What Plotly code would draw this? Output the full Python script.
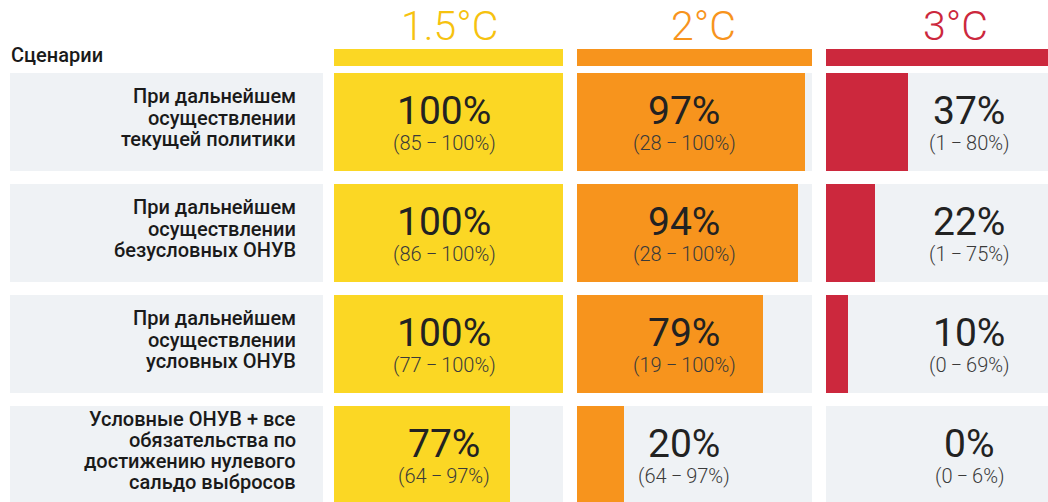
import plotly.graph_objects as go

# ---------------- data ----------------
scenarios = [
    "При дальнейшем<br>осуществлении<br>текущей политики",
    "При дальнейшем<br>осуществлении<br>безусловных ОНУВ",
    "При дальнейшем<br>осуществлении<br>условных ОНУВ",
    "Условные ОНУВ + все<br>обязательства по<br>достижению нулевого<br>сальдо выбросов",
]
warming_levels = ["1.5°C", "2°C", "3°C"]
val_15 = [100, 100, 100, 77]
val_2 = [97, 94, 79, 20]
val_3 = [37, 22, 10, 0]
rng_15 = [(85, 100), (86, 100), (77, 100), (64, 97)]
rng_2 = [(28, 100), (28, 100), (19, 100), (64, 97)]
rng_3 = [(1, 80), (1, 75), (0, 69), (0, 6)]
header_label = "Сценарии"

# ---------------- styling / layout ----------------
W, H = 1048, 502
FONT = "Roboto"
BG = "#EFF2F5"
col_colors = ["#FBD724", "#F7941D", "#CC283D"]
title_colors = ["#F6C20F", "#F7941D", "#CC283D"]
col_px = [(334, 563), (577, 812), (826, 1048)]      # column extents (px)
text_center_px = [444, 684, 969]                     # label centre per column
title_center_px = [449, 703, 955]
label_px = (10, 323)
ROW0 = 121.5      # px centre of first row
PITCH = 111.0     # px between rows
ROW_H = 98.0
HDR_Y, HDR_H = 57.5, 17.0
LINE_PITCH = 21.3

values = [val_15, val_2, val_3]
ranges = [rng_15, rng_2, rng_3]
rows = list(range(len(scenarios)))


def px(x):
    return x / W


def py(y):
    return 1 - y / H


def row_from_px(y):
    return (y - ROW0) / PITCH


fig = go.Figure()
bw = ROW_H / PITCH
hdr_row = row_from_px(HDR_Y)

axes = ["x", "x2", "x3"]
for i, ax in enumerate(axes):
    fig.add_trace(go.Bar(x=[100] * len(rows), y=rows, orientation="h", width=bw,
                         marker=dict(color=BG, line=dict(width=0)),
                         xaxis=ax, yaxis="y", hoverinfo="skip", showlegend=False))
    fig.add_trace(go.Bar(x=values[i], y=rows, orientation="h", width=bw,
                         marker=dict(color=col_colors[i], line=dict(width=0)),
                         xaxis=ax, yaxis="y", hoverinfo="skip", showlegend=False))
    fig.add_trace(go.Bar(x=[100], y=[hdr_row], orientation="h", width=HDR_H / PITCH,
                         marker=dict(color=col_colors[i], line=dict(width=0)),
                         xaxis=ax, yaxis="y", hoverinfo="skip", showlegend=False))

# label column background
fig.add_trace(go.Bar(x=[100] * len(rows), y=rows, orientation="h", width=bw,
                     marker=dict(color=BG, line=dict(width=0)),
                     xaxis="x4", yaxis="y", hoverinfo="skip", showlegend=False))

ann = []
TS = "\u2009"
for i in range(3):
    ann.append(dict(text=warming_levels[i], x=px(title_center_px[i]), y=py(26),
                    xref="paper", yref="paper", xanchor="center", yanchor="middle",
                    showarrow=False,
                    font=dict(family=FONT, size=41, color=title_colors[i], weight=300)))
    for r in rows:
        lo, hi = ranges[i][r]
        ann.append(dict(text=f"{values[i][r]}%", x=px(text_center_px[i]),
                        y=r + row_from_px(ROW0 - 10.5), xref="paper", yref="y",
                        xanchor="center", yanchor="middle", showarrow=False,
                        font=dict(family=FONT, size=39, color="#222222", weight=400)))
        ann.append(dict(text=f"({lo}{TS}−{TS}{hi}%)", x=px(text_center_px[i]),
                        y=r + row_from_px(ROW0 + 21.5), xref="paper", yref="y",
                        xanchor="center", yanchor="middle", showarrow=False,
                        font=dict(family=FONT, size=20, color="#3a3a3a", weight=300)))

for r in rows:
    lines = scenarios[r].split("<br>")
    n = len(lines)
    for k, line in enumerate(lines):
        ypx = ROW0 - 4 + (k - (n - 1) / 2) * LINE_PITCH
        ann.append(dict(text=line, x=px(298), y=r + row_from_px(ypx),
                        xref="paper", yref="y", xanchor="right", yanchor="middle",
                        align="right", showarrow=False,
                        font=dict(family=FONT, size=20, color="#1a1a1a", weight=500)))

ann.append(dict(text=header_label, x=px(9), y=py(55), xref="paper", yref="paper",
                xanchor="left", yanchor="middle", showarrow=False,
                font=dict(family=FONT, size=20, color="#1a1a1a", weight=500)))

hidden = dict(visible=False, showgrid=False, zeroline=False, range=[0, 100], fixedrange=True)
fig.update_layout(
    width=W, height=H,
    margin=dict(l=0, r=0, t=0, b=0),
    paper_bgcolor="white", plot_bgcolor="rgba(0,0,0,0)",
    barmode="overlay", bargap=0,
    hovermode=False,
    xaxis=dict(domain=[px(col_px[0][0]), px(col_px[0][1])], anchor="y", **hidden),
    xaxis2=dict(domain=[px(col_px[1][0]), px(col_px[1][1])], anchor="y", **hidden),
    xaxis3=dict(domain=[px(col_px[2][0]), px(col_px[2][1])], anchor="y", **hidden),
    xaxis4=dict(domain=[px(label_px[0]), px(label_px[1])], anchor="y", **hidden),
    yaxis=dict(domain=[0, 1], range=[row_from_px(H), row_from_px(0)], visible=False,
               showgrid=False, zeroline=False, fixedrange=True, anchor="x"),
    annotations=ann,
)

fig.write_html("out.html", config={"displayModeBar": False, "staticPlot": True},
               post_script="document.body.style.margin='0';document.body.style.overflow='hidden';")
